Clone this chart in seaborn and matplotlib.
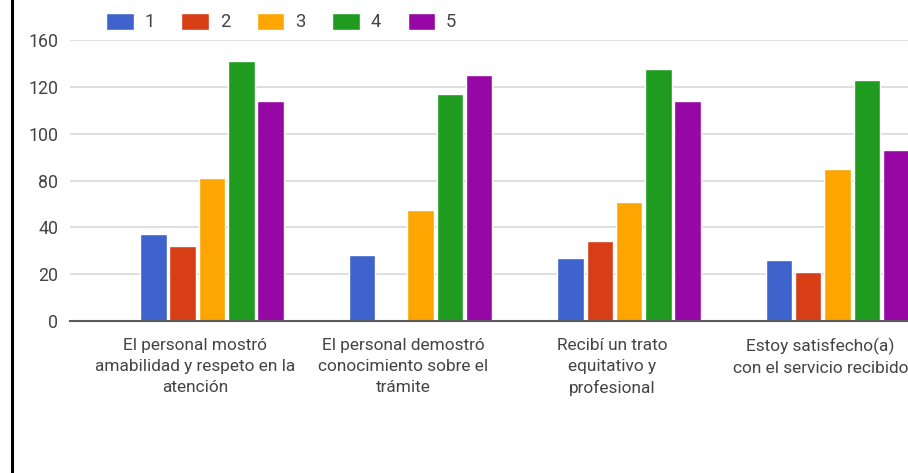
import numpy as np
import pandas as pd
import seaborn as sns
import matplotlib.pyplot as plt
from matplotlib.lines import Line2D
from matplotlib.transforms import ScaledTranslation

# Data (counts per answer 1..5 for each statement)
categories = [
    "El personal mostró\namabilidad y respeto en la\natención",
    "El personal demostró\nconocimiento sobre el\ntrámite",
    "Recibí un trato\nequitativo y\nprofesional",
    "Estoy satisfecho(a)\ncon el servicio recibido",
]
answers = ["1", "2", "3", "4", "5"]
resp_1 = [37, 28, 27, 26]
resp_2 = [32, 0, 34, 21]
resp_3 = [81, 55, 62, 85]
resp_4 = [142, 117, 135, 126]
resp_5 = [114, 130, 114, 93]
# the axis of the reference is labelled with these values at equal spacing
ytick_values = [0, 20, 40, 80, 100, 120, 160]
ytick_labels = ["0", "20", "40", "80", "100", "120", "160"]

colors = ["#3f63cc", "#d83e16", "#fda500", "#1f9b1f", "#9707a5"]

rows = []
for ans, vals in zip(answers, [resp_1, resp_2, resp_3, resp_4, resp_5]):
    for cat, v in zip(categories, vals):
        rows.append({"pregunta": cat, "respuesta": ans, "n": v})
df = pd.DataFrame(rows)

sns.set_theme(style="white")
plt.rcParams["font.family"] = ["Roboto", "DejaVu Sans"]

fig = plt.figure(figsize=(9.08, 4.73), dpi=100)
ax = fig.add_axes([70 / 908, 152 / 473, 838 / 908, 281 / 473])

sns.barplot(data=df, x="pregunta", y="n", hue="respuesta", palette=colors,
            errorbar=None, width=0.703, gap=0.1, saturation=1, ax=ax)

# piecewise scale so the labelled gridlines sit at equal steps
pos = np.arange(len(ytick_values), dtype=float)
fwd = lambda v: np.interp(v, ytick_values, pos)
inv = lambda p: np.interp(p, pos, ytick_values)
ax.set_yscale("function", functions=(fwd, inv))
ax.set_ylim(0, 160)
ax.set_yticks(ytick_values)
ax.set_yticklabels(ytick_labels)
ax.yaxis.set_minor_locator(plt.NullLocator())

ax.set_xlim(-0.681, 3.338)
ax.set_xlabel("")
ax.set_ylabel("")

ax.grid(axis="y", color="#d9d9d9", linewidth=1.2)
ax.set_axisbelow(True)
for s in ["top", "right", "left"]:
    ax.spines[s].set_visible(False)
ax.spines["bottom"].set_color("#5a5a5a")
ax.spines["bottom"].set_linewidth(1.5)
ax.spines["bottom"].set_zorder(5)

ax.tick_params(axis="y", length=0, pad=8.6, labelsize=12.8, labelcolor="#444444")
ax.tick_params(axis="x", length=0, pad=12, labelsize=12.4, labelcolor="#444444")
shift = ScaledTranslation(-17 / 100, 0, fig.dpi_scale_trans)
for lab in ax.get_xticklabels():
    lab.set_linespacing(1.5)
    lab.set_transform(lab.get_transform() + shift)

ax.legend(title=None, ncol=5, frameon=False, fontsize=13.2,
          loc="center left", bbox_to_anchor=(106 / 908, 1 - 22 / 473),
          bbox_transform=fig.transFigure, borderaxespad=0, borderpad=0,
          handlelength=1.5, handleheight=1.05, handletextpad=0.6,
          columnspacing=1.45, labelcolor="#444444")

# black frame line on the left edge of the screenshot
fig.add_artist(Line2D([11.5 / 908, 11.5 / 908], [0, 1], color="black",
                      linewidth=2.2, transform=fig.transFigure))

fig.savefig("out.png", dpi=100)
